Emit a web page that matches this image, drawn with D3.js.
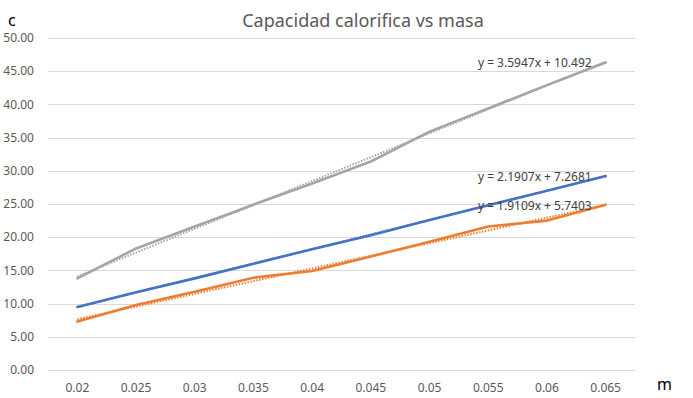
<!DOCTYPE html>
<html>
<head>
<meta charset="utf-8">
<script src="https://cdn.jsdelivr.net/npm/d3@7"></script>
<style>
    body { margin: 0; background: #fff; }
    svg text { font-family: "Noto Sans", sans-serif; }
</style>
</head>
<body>
<svg id="chart" width="693" height="398"></svg>
<script>
// masa (category axis)
const masses = ["0.02", "0.025", "0.03", "0.035", "0.04", "0.045", "0.05", "0.055", "0.06", "0.065"];

// capacidad calorifica per series
const serieAzul = [9.5, 11.7, 13.8, 16.0, 18.2, 20.3, 22.6, 24.8, 27.0, 29.2];
const serieNaranja = [7.3, 9.8, 11.8, 13.9, 14.9, 17.1, 19.3, 21.6, 22.5, 24.9];
const serieGris = [13.8, 18.3, 21.6, 24.9, 28.1, 31.4, 35.9, 39.4, 42.9, 46.3];

// linear trendlines y = a*x + b (x = 1..n)
const trendSlopes = [2.1907, 1.9109, 3.5947];
const trendIntercepts = [7.2681, 5.7403, 10.492];
const trendLabels = ["y = 2.1907x + 7.2681", "y = 1.9109x + 5.7403", "y = 3.5947x + 10.492"];

const yTicks = [0, 5, 10, 15, 20, 25, 30, 35, 40, 45, 50];

const COLORS = ["#4472C4", "#ED7D31", "#A5A5A5"];

const series = [serieAzul, serieNaranja, serieGris].map((values, i) => ({
    values: values,
    color: COLORS[i],
    slope: trendSlopes[i],
    intercept: trendIntercepts[i],
    label: trendLabels[i]
}));

const plot = { left: 48, right: 635, top: 38, bottom: 370 };

const svg = d3.select("#chart");

const x = d3.scaleBand()
    .domain(masses)
    .range([plot.left, plot.right])
    .padding(0);

const y = d3.scaleLinear()
    .domain([0, 50])
    .range([plot.bottom, plot.top]);

const cx = m => x(m) + x.bandwidth() / 2;

// gridlines
svg.append("g")
    .selectAll("line")
    .data(yTicks)
    .join("line")
    .attr("x1", plot.left)
    .attr("x2", plot.right)
    .attr("y1", d => Math.round(y(d)) + 0.5)
    .attr("y2", d => Math.round(y(d)) + 0.5)
    .attr("stroke", "#d9d9d9")
    .attr("stroke-width", 1);

// y axis labels
svg.append("g")
    .selectAll("text")
    .data(yTicks)
    .join("text")
    .attr("x", 34)
    .attr("y", d => y(d))
    .attr("dy", "0.35em")
    .attr("text-anchor", "end")
    .attr("font-size", 12)
    .attr("fill", "#595959")
    .text(d => d3.format(".2f")(d));

// x axis labels
svg.append("g")
    .selectAll("text")
    .data(masses)
    .join("text")
    .attr("x", d => cx(d))
    .attr("y", 392)
    .attr("text-anchor", "middle")
    .attr("font-size", 12)
    .attr("fill", "#595959")
    .text(d => d);

// trendlines (dotted)
const first = masses[0];
const last = masses[masses.length - 1];
const n = masses.length;

svg.append("g")
    .selectAll("line")
    .data(series)
    .join("line")
    .attr("x1", cx(first))
    .attr("x2", cx(last))
    .attr("y1", d => y(d.slope * 1 + d.intercept))
    .attr("y2", d => y(d.slope * n + d.intercept))
    .attr("stroke", d => d.color)
    .attr("stroke-width", 2)
    .attr("stroke-dasharray", "1.5,1.5");

// data lines
const line = d3.line()
    .x((d, i) => cx(masses[i]))
    .y(d => y(d));

svg.append("g")
    .selectAll("path")
    .data(series)
    .join("path")
    .attr("d", d => line(d.values))
    .attr("fill", "none")
    .attr("stroke", d => d.color)
    .attr("stroke-width", 2.6)
    .attr("stroke-linejoin", "round")
    .attr("stroke-linecap", "round");

// trendline equations
svg.append("g")
    .selectAll("text")
    .data(series)
    .join("text")
    .attr("x", cx(last) - 14)
    .attr("y", d => y(d.slope * n + d.intercept) + 5)
    .attr("text-anchor", "end")
    .attr("font-size", 12)
    .attr("fill", "#404040")
    .text(d => d.label);

// title
svg.append("text")
    .attr("x", 363)
    .attr("y", 27)
    .attr("text-anchor", "middle")
    .attr("font-size", 18)
    .attr("fill", "#595959")
    .text("Capacidad calorifica vs masa");

// axis names
svg.append("text")
    .attr("x", 8)
    .attr("y", 26)
    .attr("font-size", 16)
    .attr("fill", "#000")
    .text("c");

svg.append("text")
    .attr("x", 657)
    .attr("y", 390)
    .attr("font-size", 16)
    .attr("fill", "#000")
    .text("m");
</script>
</body>
</html>
